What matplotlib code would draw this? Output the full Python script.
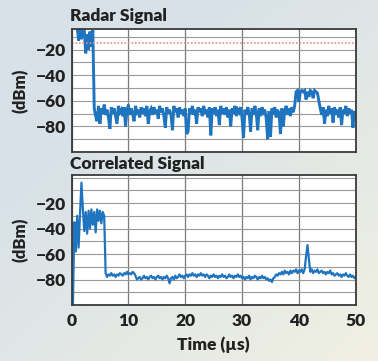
import numpy as np
import matplotlib
matplotlib.use("Agg")
import matplotlib.pyplot as plt
from matplotlib.ticker import MultipleLocator

# ---------------- data ----------------
radar_title = "Radar Signal"
corr_title = "Correlated Signal"
x_label = "Time (µs)"
y_label = "(dBm)"
x_ticks = [0, 10, 20, 30, 40, 50]
y_ticks = [-20, -40, -60, -80]
threshold_dbm = -15

# radar signal, samples every 0.25 µs from 0 to 50 µs
radar_dbm = [
    0, 0, 0, 0, -2, -13, 0, -12, 0, -5, -23, -8, -20, -6, -18, -5,
    -66, -72, -76, -64, -78, -66, -70, -63, -71, -67, -73, -82, -65, -70, -66, -72,
    -78, -64, -69, -67, -72, -65, -80, -68, -63, -71, -66, -70, -76, -64, -69, -67,
    -73, -65, -70, -66, -72, -64, -78, -68, -66, -71, -65, -70, -67, -74, -64, -69,
    -66, -72, -81, -65, -70, -67, -71, -83, -64, -69, -66, -73, -65, -70, -67, -72,
    -66, -86, -84, -66, -70, -64, -71, -67, -78, -65, -69, -66, -72, -64, -70, -67,
    -73, -65, -87, -66, -70, -65, -72, -67, -79, -64, -70, -66, -71, -65, -73, -67,
    -80, -66, -70, -64, -72, -67, -69, -65, -74, -89, -67, -71, -65, -70, -84, -66,
    -71, -64, -70, -83, -66, -72, -65, -69, -67, -74, -90, -68, -88, -66, -71, -65,
    -73, -67, -70, -86, -66, -80, -68, -64, -71, -66, -72, -65, -69, -64,
    -53, -52, -61, -53, -52, -53, -52, -59, -53, -57, -52, -53, -58, -52, -53, -54,
    -60, -66, -71, -65, -78, -67, -72, -64, -70, -66, -77, -65, -71, -67, -73, -65,
    -79, -67, -70, -64, -72, -66, -70, -67, -81, -68, -74,
]

# correlated signal, samples every 0.25 µs from 0 to 50 µs
corr_dbm = [
    -100, -100, -35, -58, -30, -55, -28, -4, -25, -42, -27, -44, -26, -40, -25, -37,
    -27, -43, -25, -34, -26, -36, -27, -30, -75, -78, -76, -77, -75, -77, -76, -78,
    -76, -77, -75, -76, -77, -75, -76, -74, -76, -75, -76, -74, -75, -77, -80, -79,
    -78, -80, -79, -77, -79, -78, -80, -78, -77, -79, -78, -80, -78, -77, -79, -78,
    -80, -78, -79, -77, -79, -83, -79, -78, -80, -77, -79, -78, -76, -78, -77, -79,
    -77, -76, -78, -76, -77, -75, -77, -76, -78, -76, -77, -75, -77, -76, -78, -76,
    -77, -79, -77, -78, -76, -78, -77, -79, -77, -78, -76, -78, -77, -79, -78, -76,
    -78, -77, -79, -77, -78, -76, -78, -77, -79, -78, -80, -78, -79, -77, -80, -78,
    -79, -77, -78, -80, -78, -79, -77, -79, -78, -80, -79, -81, -80, -82, -79, -78,
    -76, -77, -75, -76, -74, -76, -73, -75, -74, -76, -73, -75, -73, -74, -72, -75,
    -73, -74, -72, -75, -72, -62, -53, -64, -74, -72, -75, -73, -74, -72, -75, -74,
    -73, -75, -74, -76, -74, -75, -73, -76, -75, -77, -76, -75, -77, -76, -78, -76,
    -77, -75, -77, -78, -76, -78, -77, -79, -78,
]

radar_t = np.linspace(0, 50, len(radar_dbm))
corr_t = np.linspace(0, 50, len(corr_dbm))

# ---------------- styling ----------------
W, H, DPI = 378, 361, 100
fig = plt.figure(figsize=(W / DPI, H / DPI), dpi=DPI)

# background gradient
bg = fig.add_axes([0, 0, 1, 1], zorder=-10)
gx = np.linspace(0, 1, 64)
gy = np.linspace(0, 1, 64)
GX, GY = np.meshgrid(gx, gy)
w = np.clip(0.55 * GX + 0.6 * GY - 0.35, 0, 1)[..., None]
c1 = np.array([0.850, 0.886, 0.906])
c2 = np.array([0.965, 0.955, 0.885])
img = c1 * (1 - w) + c2 * w
bg.imshow(img, extent=[0, 1, 0, 1], aspect="auto", origin="upper")
bg.set_axis_off()

FONT = ["Lato", "DejaVu Sans"]
TXT = "#222222"
LINE = "#1f74c0"
WEIGHT = "heavy"

left = 71.5 / W
width = (355.8 - 71.5) / W
ax1 = fig.add_axes([left, 1 - 152 / H, width, (152 - 29) / H])
ax2 = fig.add_axes([left, 1 - 305 / H, width, (305 - 175) / H])


def style(ax, ylim):
    ax.set_facecolor("white")
    ax.set_xlim(0, 50)
    ax.set_ylim(*ylim)
    ax.set_xticks(x_ticks)
    ax.set_yticks(y_ticks)
    ax.yaxis.set_minor_locator(MultipleLocator(10))
    ax.grid(True, which="major", axis="x", color="#7a7a7a", lw=0.9)
    ax.grid(True, which="both", axis="y", color="#9a9a9a", lw=0.8)
    ax.set_axisbelow(True)
    for s in ax.spines.values():
        s.set_color("#3a3a3a")
        s.set_linewidth(1.3)
    ax.tick_params(which="both", length=0, pad=4, labelsize=12.5, labelcolor=TXT)
    for lab in ax.get_yticklabels() + ax.get_xticklabels():
        lab.set_fontweight(WEIGHT)
        lab.set_fontfamily(FONT)
    ax.set_ylabel(y_label, fontsize=12, fontweight=WEIGHT, family=FONT, color=TXT)


style(ax1, (-100, -4))
style(ax2, (-100, 2))

ax1.plot(radar_t, radar_dbm, color=LINE, lw=2.1, solid_joinstyle="miter")
ax1.axhline(threshold_dbm, color="#f08a8a", lw=1.2, ls=(0, (1, 1.1)))
ax1.tick_params(axis="x", labelbottom=False)

ax2.plot(corr_t, corr_dbm, color=LINE, lw=1.6)
ax2.tick_params(axis="x", pad=6)
ax2.set_xlabel(x_label, fontsize=12.5, fontweight=WEIGHT, family=FONT, color=TXT, labelpad=5)

fig.text(70 / W, 1 - 21 / H, radar_title, fontsize=12.5, fontweight=WEIGHT, family=FONT, color=TXT,
         ha="left", va="baseline")
fig.text(70 / W, 1 - 169 / H, corr_title, fontsize=12.5, fontweight=WEIGHT, family=FONT, color=TXT,
         ha="left", va="baseline")

for ax in (ax1, ax2):
    ax.yaxis.set_label_coords(-0.15, 0.5)

fig.savefig("out.png", dpi=DPI)
